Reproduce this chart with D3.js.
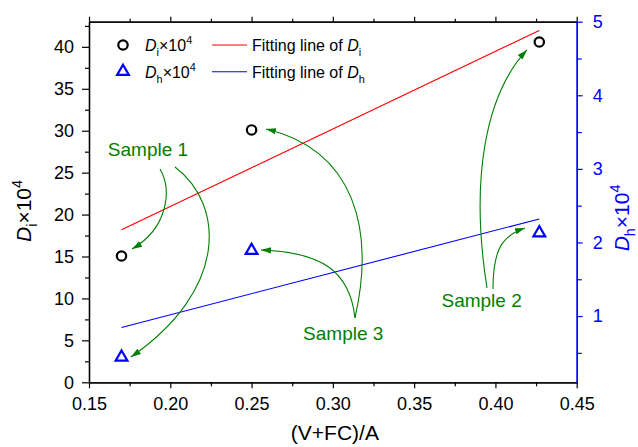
<!DOCTYPE html>
<html><head><meta charset="utf-8">
<script src="https://cdn.jsdelivr.net/npm/d3@7"></script>
<style>body{margin:0;background:#fff} text{font-family:"Liberation Sans",Arial,sans-serif}</style>
</head><body><svg id="c" width="638" height="447"></svg>
<script>
// ---------- data ----------
const xTickVals = [0.15, 0.20, 0.25, 0.30, 0.35, 0.40, 0.45];
const xMinorVals = [0.175, 0.225, 0.275, 0.325, 0.375, 0.425];
const leftTickVals = [0, 5, 10, 15, 20, 25, 30, 35, 40];
const leftMinorVals = [2.5, 7.5, 12.5, 17.5, 22.5, 27.5, 32.5, 37.5, 42.5];
const rightTickVals = [1, 2, 3, 4, 5];
const rightMinorVals = [0.5, 1.5, 2.5, 3.5, 4.5];

const xVals = [0.17, 0.25, 0.427];
const diVals = [15.06, 30.09, 40.58];   // Di x 10^4 (left axis)
const dhVals = [0.44, 1.89, 2.13];      // Dh x 10^4 (right axis)
const fitX = [0.17, 0.427];
const fitDi = [18.2, 41.95];
const fitDh = [0.845, 2.32];

const sampleLabels = ["Sample 1", "Sample 2", "Sample 3"];
const sampleLabelX = [0.1863, 0.3915, 0.3064];
const sampleLabelY = [26.93, 8.98, 5.01];
// annotation arrows: cubic curves, in data units (x, left-axis y)
const arrowCurves = [
  [[0.1937, 25.44], [0.2011, 22.93], [0.1986, 18.40], [0.1765, 15.90]],
  [[0.2029, 25.67], [0.2337, 21.14], [0.2355, 11.01], [0.1758, 3.02]],
  [[0.3136, 7.67], [0.3259, 18.16], [0.3136, 27.70], [0.2589, 30.21]],
  [[0.3136, 7.67], [0.3105, 13.39], [0.2921, 15.54], [0.2558, 15.78]],
  [[0.3948, 11.25], [0.3844, 24.12], [0.3936, 34.26], [0.4194, 39.63]],
  [[0.3985, 11.13], [0.3985, 16.37], [0.4059, 17.57], [0.4182, 18.40]]
];

// ---------- setup ----------
const svg = d3.select("#c");
const X0 = 89, X1 = 576.7, Y0 = 382.3, Y1 = 21.7;
const x = d3.scaleLinear().domain([0.15, 0.45]).range([X0, X1]);
const yL = d3.scaleLinear().domain([0, 43]).range([Y0, Y1]);
const yR = d3.scaleLinear().domain([0.1, 5]).range([Y0, Y1]);
const BLUE = "#0000ff", RED = "#ff0000", GREEN = "#008000";

function rich(sel, parts, size) {
  let cur = 0;
  parts.forEach(p => {
    const target = p.sub ? size * 0.3 : p.sup ? -size * 0.42 : 0;
    const t = sel.append("tspan").text(p.t).attr("dy", target - cur);
    if (p.sub || p.sup) t.attr("font-size", size * 0.68);
    if (p.it) t.attr("font-style", "italic");
    cur = target;
  });
}

// ---------- axes ----------
function styleAxis(g, color, fs) {
  g.selectAll("path.domain").attr("stroke", color).attr("stroke-width", 1.3);
  g.selectAll(".tick line").attr("stroke", color).attr("stroke-width", 1.2);
  g.selectAll(".tick text").attr("fill", color).attr("font-size", fs)
    .attr("font-family", '"Liberation Sans",Arial,sans-serif');
}
// bottom
const gb = svg.append("g").attr("transform", `translate(0,${Y0})`);
gb.call(d3.axisBottom(x).tickValues(xTickVals).tickFormat(d3.format(".2f"))
  .tickSize(6).tickPadding(9).tickSizeOuter(0));
styleAxis(gb, "#000", 18);
const gbm = svg.append("g").attr("transform", `translate(0,${Y0})`);
gbm.call(d3.axisBottom(x).tickValues(xMinorVals).tickFormat("").tickSize(4).tickSizeOuter(0));
styleAxis(gbm, "#000", 18);
// top
const gt = svg.append("g").attr("transform", `translate(0,${Y1})`);
gt.call(d3.axisTop(x).tickValues(xTickVals).tickFormat("").tickSize(5).tickSizeOuter(0));
styleAxis(gt, "#000", 18);
const gtm = svg.append("g").attr("transform", `translate(0,${Y1})`);
gtm.call(d3.axisTop(x).tickValues(xMinorVals).tickFormat("").tickSize(3).tickSizeOuter(0));
styleAxis(gtm, "#000", 18);
// left
const gl = svg.append("g").attr("transform", `translate(${X0},0)`);
gl.call(d3.axisLeft(yL).tickValues(leftTickVals).tickFormat(d3.format("d"))
  .tickSize(7).tickPadding(8).tickSizeOuter(0));
styleAxis(gl, "#000", 18);
const glm = svg.append("g").attr("transform", `translate(${X0},0)`);
glm.call(d3.axisLeft(yL).tickValues(leftMinorVals).tickFormat("").tickSize(4).tickSizeOuter(0));
styleAxis(glm, "#000", 18);
// right
const gr = svg.append("g").attr("transform", `translate(${X1},0)`);
gr.call(d3.axisRight(yR).tickValues(rightTickVals).tickFormat(d3.format("d"))
  .tickSize(6).tickPadding(10).tickSizeOuter(0));
styleAxis(gr, BLUE, 18);
const grm = svg.append("g").attr("transform", `translate(${X1},0)`);
grm.call(d3.axisRight(yR).tickValues(rightMinorVals).tickFormat("").tickSize(5).tickSizeOuter(0));
styleAxis(grm, BLUE, 18);

// axis titles
svg.append("text").attr("x", (X0 + X1) / 2 + 2).attr("y", 440).attr("text-anchor", "middle")
  .attr("font-size", 21).text("(V+FC)/A");
const lt = svg.append("text").attr("transform", "translate(31,211) rotate(-90)")
  .attr("text-anchor", "middle").attr("font-size", 21);
rich(lt, [{t: "D", it: true}, {t: "i", sub: true}, {t: "×10"}, {t: "4", sup: true}], 21);
const rt = svg.append("text").attr("transform", "translate(629,218) rotate(-90)")
  .attr("text-anchor", "middle").attr("font-size", 21).attr("fill", BLUE);
rich(rt, [{t: "D", it: true}, {t: "h", sub: true}, {t: "×10"}, {t: "4", sup: true}], 21);

// ---------- fit lines ----------
const lineL = d3.line().x((d, i) => x(fitX[i])).y(d => yL(d));
const lineR = d3.line().x((d, i) => x(fitX[i])).y(d => yR(d));
svg.append("path").attr("d", lineL(fitDi)).attr("fill", "none").attr("stroke", RED).attr("stroke-width", 1.1);
svg.append("path").attr("d", lineR(fitDh)).attr("fill", "none").attr("stroke", BLUE).attr("stroke-width", 1.1);

// ---------- points ----------
const tri = d3.symbol().type(d3.symbolTriangle).size(60);
svg.selectAll("circle.di").data(diVals).join("circle").attr("class", "di")
  .attr("cx", (d, i) => x(xVals[i])).attr("cy", d => yL(d)).attr("r", 4.7)
  .attr("fill", "none").attr("stroke", "#000").attr("stroke-width", 2.2);
svg.selectAll("path.dh").data(dhVals).join("path").attr("class", "dh")
  .attr("d", tri).attr("transform", (d, i) => `translate(${x(xVals[i])},${yR(d)})`)
  .attr("fill", "none").attr("stroke", BLUE).attr("stroke-width", 2.2);

// ---------- annotations ----------
svg.append("defs").append("marker").attr("id", "ah")
  .attr("markerUnits", "userSpaceOnUse").attr("viewBox", "0 -4 11 8")
  .attr("refX", 10).attr("refY", 0).attr("markerWidth", 11).attr("markerHeight", 8)
  .attr("orient", "auto")
  .append("path").attr("d", "M0,-3.2L10,0L0,3.2Z").attr("fill", GREEN);
arrowCurves.forEach(c => {
  const p = d3.path();
  p.moveTo(x(c[0][0]), yL(c[0][1]));
  p.bezierCurveTo(x(c[1][0]), yL(c[1][1]), x(c[2][0]), yL(c[2][1]), x(c[3][0]), yL(c[3][1]));
  svg.append("path").attr("d", p.toString()).attr("fill", "none")
    .attr("stroke", GREEN).attr("stroke-width", 1.1).attr("marker-end", "url(#ah)");
});
sampleLabels.forEach((s, i) => {
  svg.append("text").attr("x", x(sampleLabelX[i])).attr("y", yL(sampleLabelY[i]))
    .attr("text-anchor", "middle").attr("font-size", 19).attr("fill", GREEN).text(s);
});

// ---------- legend ----------
const lg = svg.append("g");
lg.append("circle").attr("cx", 123).attr("cy", 45).attr("r", 4.7)
  .attr("fill", "none").attr("stroke", "#000").attr("stroke-width", 2.2);
lg.append("path").attr("d", tri).attr("transform", "translate(123,71.5)")
  .attr("fill", "none").attr("stroke", BLUE).attr("stroke-width", 2.2);
rich(lg.append("text").attr("x", 145).attr("y", 51).attr("font-size", 16),
  [{t: "D", it: true}, {t: "i", sub: true}, {t: "×10"}, {t: "4", sup: true}], 16);
rich(lg.append("text").attr("x", 145).attr("y", 78).attr("font-size", 16),
  [{t: "D", it: true}, {t: "h", sub: true}, {t: "×10"}, {t: "4", sup: true}], 16);
lg.append("line").attr("x1", 212).attr("x2", 247).attr("y1", 45).attr("y2", 45)
  .attr("stroke", RED).attr("stroke-width", 1.1);
lg.append("line").attr("x1", 212).attr("x2", 247).attr("y1", 71.7).attr("y2", 71.7)
  .attr("stroke", BLUE).attr("stroke-width", 1.1);
rich(lg.append("text").attr("x", 252).attr("y", 51).attr("font-size", 16),
  [{t: "Fitting line of "}, {t: "D", it: true}, {t: "i", sub: true}], 16);
rich(lg.append("text").attr("x", 252).attr("y", 78).attr("font-size", 16),
  [{t: "Fitting line of "}, {t: "D", it: true}, {t: "h", sub: true}], 16);
</script></body></html>
